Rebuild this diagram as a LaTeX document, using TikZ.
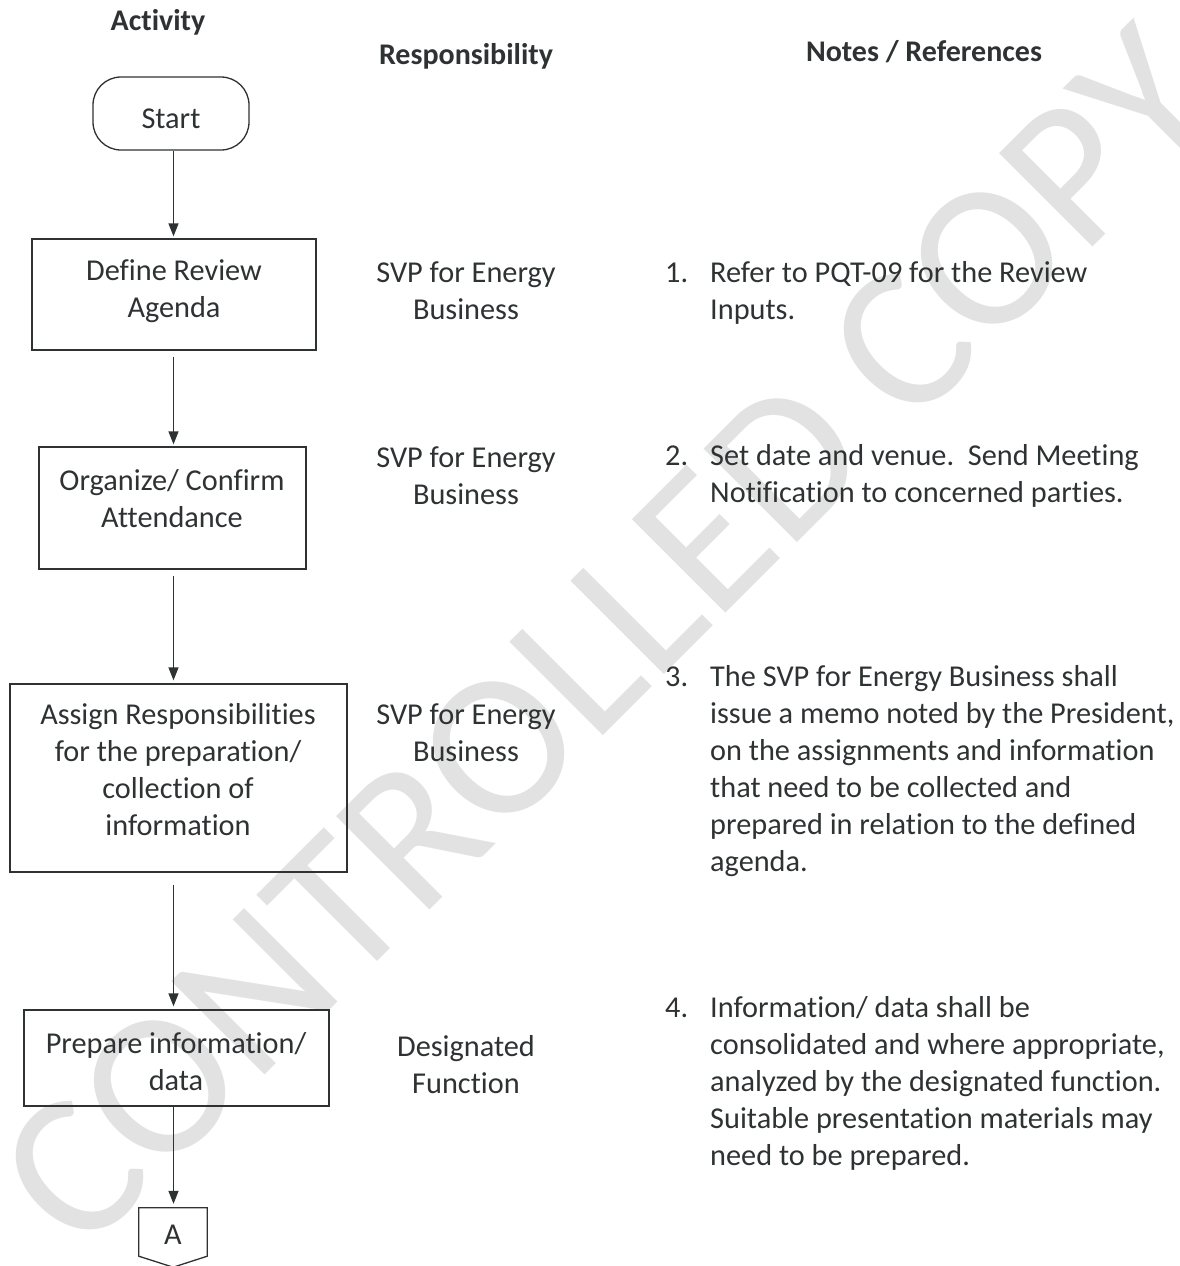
\documentclass[tikz,border=0pt]{standalone}
\usepackage{fontspec}
\setmainfont{Carlito}[Ligatures={NoCommon,NoRare,NoContextual}]
\usetikzlibrary{arrows.meta}
\definecolor{ink}{HTML}{2E3233}
\definecolor{wm}{HTML}{E2E2E2}
\begin{document}
\begin{tikzpicture}[x=1pt,y=-1pt,
  every node/.style={inner sep=0pt, text=ink},
  body/.style={font=\fontsize{30.3}{37}\selectfont},
  head/.style={font=\fontsize{30}{37}\selectfont\bfseries},
  boxshape/.style={draw=ink, line width=1.3pt},
  arr/.style={draw=ink, line width=1.3pt, -{Triangle[length=13pt,width=10pt]}},
  ctxt/.style={body, align=center},
  ltxt/.style={body, align=left, anchor=west},
  num/.style={body, anchor=base west}]
\useasboundingbox (0,0) rectangle (1179,1266);
% watermark
\node[rotate=45, text=wm, font=\fontsize{206}{206}\selectfont] (wmark) at (608,638) {CONTROLLED COPY};
% headings
\node[head, anchor=base] (h1) at (158,30) {Activity};
\node[head, anchor=base] (h2) at (466,64) {Responsibility};
\node[head, anchor=base] (h3) at (924,61) {Notes / References};
% activity column
\node[boxshape, rounded corners=28pt, minimum width=156pt, minimum height=73pt, body, text height=30pt, text depth=1pt] (start) at (171,113.5) {Start};
\node[boxshape, minimum width=284pt, minimum height=111pt] (define) at (174,294.5) {};
\node[ctxt] (define-t) at (174,291.1) {\strut Define Review\\\strut Agenda};
\node[boxshape, minimum width=267pt, minimum height=122pt] (organize) at (172.5,508) {};
\node[ctxt] (organize-t) at (172,501.1) {\strut Organize/ Confirm\\\strut Attendance};
\node[boxshape, minimum width=337pt, minimum height=188pt] (assign) at (178.5,778) {};
\node[ctxt] (assign-t) at (178,772.1) {\strut Assign Responsibilities\\\strut for the preparation/\\\strut collection of\\\strut information};
\node[boxshape, minimum width=305pt, minimum height=96pt] (prepare) at (176.5,1058) {};
\node[ctxt] (prepare-t) at (176,1064.1) {\strut Prepare information/\\\strut data};
\node[minimum width=68pt, minimum height=48pt, body, text height=26pt, text depth=1pt] (conA) at (173,1232) {A};
\draw[ink, line width=1.3pt] (conA.south west) -- (conA.north west) -- (conA.north east) -- (conA.south east) -- ++(-34,11) -- cycle;
% connectors
\coordinate (ax) at (173.5,0);
\draw[arr, shorten >=2pt] (start.south -| ax) -- (define.north -| ax);
\draw[arr, shorten <=6pt, shorten >=2pt] (define.south -| ax) -- (organize.north -| ax);
\draw[arr, shorten <=6pt, shorten >=3pt] (organize.south -| ax) -- (assign.north -| ax);
\draw[arr, shorten <=12pt, shorten >=3pt] (assign.south -| ax) -- (prepare.north -| ax);
\draw[arr, shorten >=4pt] (prepare.south -| ax) -- (conA.north -| ax);
% responsibility column
\node[ctxt] (r1) at (466,293.1) {\strut SVP for Energy\\\strut Business};
\node[ctxt] (r2) at (466,478.1) {\strut SVP for Energy\\\strut Business};
\node[ctxt] (r3) at (466,735.1) {\strut SVP for Energy\\\strut Business};
\node[ctxt] (r4) at (466,1067.1) {\strut Designated\\\strut Function};
% notes column
\node[num] (n1) at (665,282) {1.};
\node[ltxt] (n1-t) at (710,293.1) {\strut Refer to PQT-09 for the Review\\\strut Inputs.};
\node[num] (n2) at (665,465) {2.};
\node[ltxt] (n2-t) at (710,476.1) {\strut Set date and venue.\ \ Send Meeting\\\strut Notification to concerned parties.};
\node[num] (n3) at (665,686) {3.};
\node[ltxt] (n3-t) at (710,771.1) {\strut The SVP for Energy Business shall\\\strut issue a memo noted by the President,\\\strut on the assignments and information\\\strut that need to be collected and\\\strut prepared in relation to the defined\\\strut agenda.};
\node[num] (n4) at (665,1017) {4.};
\node[ltxt] (n4-t) at (710,1083.6) {\strut Information/ data shall be\\\strut consolidated and where appropriate,\\\strut analyzed by the designated function.\\\strut Suitable presentation materials may\\\strut need to be prepared.};
\end{tikzpicture}
\end{document}
